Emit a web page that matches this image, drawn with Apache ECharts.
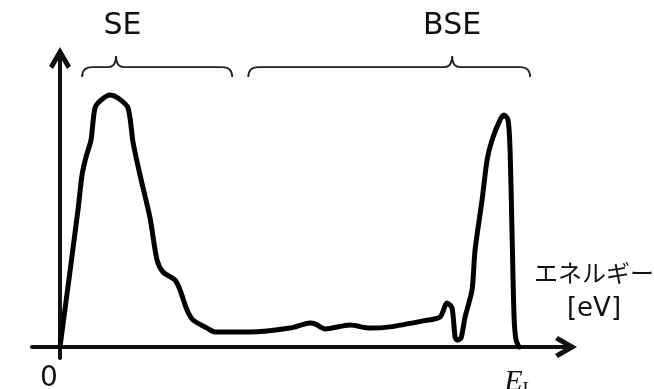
<!DOCTYPE html>
<html>
<head>
<meta charset="utf-8">
<script src="https://cdn.jsdelivr.net/npm/echarts@6/dist/echarts.min.js"></script>
<style>
  html, body { margin: 0; padding: 0; background: #fff; }
  #chart { width: 654px; height: 389px; }
</style>
</head>
<body>
<div id="chart"></div>
<script>
// Electron energy spectrum: emission yield vs. energy, E_L = 100
const energy = [0, 3.92, 4.79, 5.66, 6.75, 7.62, 8.93, 10.89, 12.63, 14.81,
  15.90, 17.43, 19.61, 21.13, 22.44, 25.05, 26.14, 27.66, 28.97, 32.02,
  33.76, 41.39, 50.10, 54.46, 55.54, 57.72, 63.17, 67.52, 71.88, 79.07,
  82.77, 84.30, 85.38, 86.04, 86.47, 87.34, 88.22, 89.74, 90.39, 91.92,
  93.01, 94.10, 95.84, 96.71, 97.58, 98.02, 98.45, 98.89, 99.32, 100];
const yieldVals = [0, 45.7, 57.3, 63.3, 69, 79.7, 82.3, 84, 83, 79.7,
  68.3, 57.3, 43, 29, 25, 22.3, 19, 12.3, 9, 6.3,
  5, 5, 6.3, 8, 7.7, 6, 7.3, 6.3, 6.7, 8.7,
  10, 14.7, 13, 3.3, 2.3, 3, 10, 19, 32.3, 49,
  62.3, 69, 75.7, 77.3, 75.7, 65.7, 38, 10, 2.3, 0];

// Energy ranges marked with braces above the curve
const braceLabels = ['SE', 'BSE'];
const braceStart = [4.8, 41.0];
const braceEnd = [37.5, 102.4];
const braceTip = [12.2, 85.4];
const braceLabelAt = [13.6, 85.4];
const braceLevel = 93.3;

// Tick labels on the energy axis
const tickValues = [0, 100];

const latinFont = '"DejaVu Sans", "Noto Sans CJK JP", sans-serif';
const cjkFont = '"Noto Sans CJK JP", sans-serif';
const ink = '#111';
// Open chevron used as the arrowhead at the end of both axes
const arrowHead = 'path://M11,0 L22,19 L18,22 L11,10 L4,22 L0,19 Z';

const chart = echarts.init(document.getElementById('chart'), null, { renderer: 'canvas' });

chart.setOption({
  animation: false,
  backgroundColor: '#fff',
  grid: { left: 32, top: 58, width: 534, height: 300, containLabel: false, outerBoundsMode: 'none' },
  xAxis: {
    type: 'value',
    min: -6.1,
    max: 110.2,
    splitLine: { show: false },
    axisTick: { show: false },
    axisLine: {
      onZero: true,
      symbol: ['none', arrowHead],
      symbolSize: [22, 22],
      lineStyle: { color: ink, width: 4 }
    },
    axisLabel: {
      customValues: tickValues,
      margin: 7,
      formatter: v => v === 0 ? '{z|0}' : '{e|E}{s|L}',
      rich: {
        z: { fontFamily: latinFont, fontSize: 28, color: ink, padding: [0, 22, 0, 0] },
        e: { fontFamily: '"Liberation Serif", serif', fontStyle: 'italic', fontSize: 30, color: ink },
        s: { fontFamily: '"Liberation Serif", serif', fontSize: 19, color: ink, verticalAlign: 'bottom', padding: [16, 0, 0, 0] }
      }
    },
    name: '{a|エネルギー}\n{b|[eV]}',
    nameLocation: 'end',
    nameGap: 28,
    nameTextStyle: {
      align: 'center',
      verticalAlign: 'bottom',
      padding: [0, 0, 20, 0],
      rich: {
        a: { fontFamily: cjkFont, fontSize: 24, color: ink, lineHeight: 36, align: 'center' },
        b: { fontFamily: latinFont, fontSize: 26, color: ink, lineHeight: 36, align: 'center' }
      }
    }
  },
  yAxis: {
    type: 'value',
    min: -3.67,
    max: 96.33,
    splitLine: { show: false },
    axisTick: { show: false },
    axisLabel: { show: false },
    axisLine: {
      onZero: true,
      symbol: ['none', arrowHead],
      symbolSize: [22, 22],
      lineStyle: { color: ink, width: 4 }
    },
    name: '発生量',
    nameLocation: 'middle',
    nameRotate: 90,
    nameGap: 35,
    nameTextStyle: { fontFamily: cjkFont, fontSize: 29, color: ink, padding: [0, 0, 0, 8] }
  },
  series: [
    {
      type: 'line',
      data: energy.map((e, i) => [e, yieldVals[i]]),
      showSymbol: false,
      smooth: 0.25,
      lineStyle: { color: '#000', width: 5, cap: 'round', join: 'round' },
      z: 3
    },
    {
      type: 'custom',
      clip: false,
      silent: true,
      data: braceStart.map((s, i) => [s, braceEnd[i], braceTip[i]]),
      encode: { x: [0, 1, 2] },
      renderItem: (params, api) => {
        const i = params.dataIndex;
        const x0 = api.coord([braceStart[i], 0])[0];
        const x1 = api.coord([braceEnd[i], 0])[0];
        const xt = api.coord([braceTip[i], 0])[0];
        const xl = api.coord([braceLabelAt[i], 0])[0];
        const yb = api.coord([0, braceLevel])[1];
        const d = `M${x0},${yb + 10} Q${x0},${yb} ${x0 + 10},${yb} L${xt - 8},${yb} ` +
          `Q${xt},${yb} ${xt},${yb - 11} Q${xt},${yb} ${xt + 8},${yb} ` +
          `L${x1 - 10},${yb} Q${x1},${yb} ${x1},${yb + 10}`;
        return {
          type: 'group',
          children: [
            {
              type: 'path',
              shape: { pathData: d },
              style: { stroke: '#222', fill: null, lineWidth: 1.8 }
            },
            {
              type: 'text',
              x: xl,
              y: yb - 41,
              style: {
                text: braceLabels[i],
                fontFamily: latinFont,
                fontSize: 30,
                fill: ink,
                align: 'center',
                verticalAlign: 'middle'
              }
            }
          ]
        };
      }
    }
  ]
});
</script>
</body>
</html>
